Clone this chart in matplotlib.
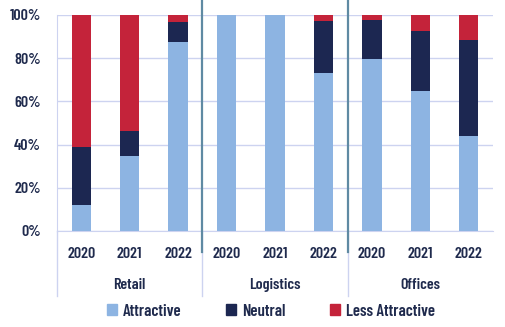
import matplotlib
matplotlib.use("Agg")
import matplotlib.pyplot as plt
from matplotlib.patches import Patch
import numpy as np

groups = ["Retail", "Logistics", "Offices"]
years = ["2020", "2021", "2022"]
attractive = [12.0, 34.7, 87.4, 100.0, 100.0, 73.0, 79.5, 64.7, 43.9]
neutral = [26.8, 11.4, 9.2, 0.0, 0.0, 24.1, 18.0, 27.7, 44.4]
less_attractive = [61.2, 53.9, 3.4, 0.0, 0.0, 2.9, 2.5, 7.6, 11.7]
series_names = ["Attractive", "Neutral", "Less Attractive"]
colors = ["#8db4e2", "#1c2751", "#c4233a"]

plt.rcParams["font.family"] = ["Barlow Condensed", "DejaVu Sans"]
plt.rcParams["font.weight"] = "semibold"
txt = "#1f2a4d"
fs = 11.5

fig = plt.figure(figsize=(5.06, 3.27), dpi=100)
ax = fig.add_axes([57/506, 1-231/327, 436/506, 216/327])

x = np.arange(len(attractive))
w = 0.40
bottom = np.zeros(len(x))
for vals, c, n in zip([attractive, neutral, less_attractive], colors, series_names):
    ax.bar(x, vals, w, bottom=bottom, color=c, label=n, zorder=3)
    bottom += np.array(vals)

ax.set_xlim(-0.5, len(x) - 0.5)
ax.set_ylim(0, 100)
ax.set_yticks([0, 20, 40, 60, 80, 100])
ax.set_yticklabels([f"{v}%" for v in [0, 20, 40, 60, 80, 100]], fontsize=11.5, color=txt)
ax.tick_params(axis="y", length=0, pad=11.5)
ax.set_xticks([])
ax.grid(axis="y", color="#cdd3f0", linewidth=1, zorder=0)
for s in ["top", "right", "bottom"]:
    ax.spines[s].set_visible(False)
ax.spines["left"].set_color("#cdd3f0")
ax.spines["bottom"].set_visible(True)
ax.spines["bottom"].set_color("#cdd3f0")

trans = ax.get_xaxis_transform()
for i in x:
    ax.text(i, -0.105, years[i % 3], transform=trans, ha="center", va="center",
            fontsize=fs, color=txt)
for g, name in enumerate(groups):
    ax.text(g*3 + 1, -0.25, name, transform=trans, ha="center", va="center",
            fontsize=fs, color=txt)
for b in [-0.5, 2.5, 5.5]:
    ax.plot([b, b], [0, -0.30], transform=trans, color="#cdd3f0", lw=1, clip_on=False)
for b in [2.5, 5.5]:
    ax.plot([b, b], [-0.097, 1.07], transform=trans, color="#5f8aa3", lw=1.6,
            clip_on=False, zorder=5)

handles = [Patch(color=c, label=n) for c, n in zip(colors, series_names)]
leg = fig.legend(handles=handles, loc="center", bbox_to_anchor=(271/506, 1-311/327),
                 ncol=3, frameon=False, fontsize=12, handlelength=0.6, handleheight=0.6,
                 handletextpad=0.35, columnspacing=2.7, labelcolor=txt)

fig.savefig("out.png", dpi=100)
